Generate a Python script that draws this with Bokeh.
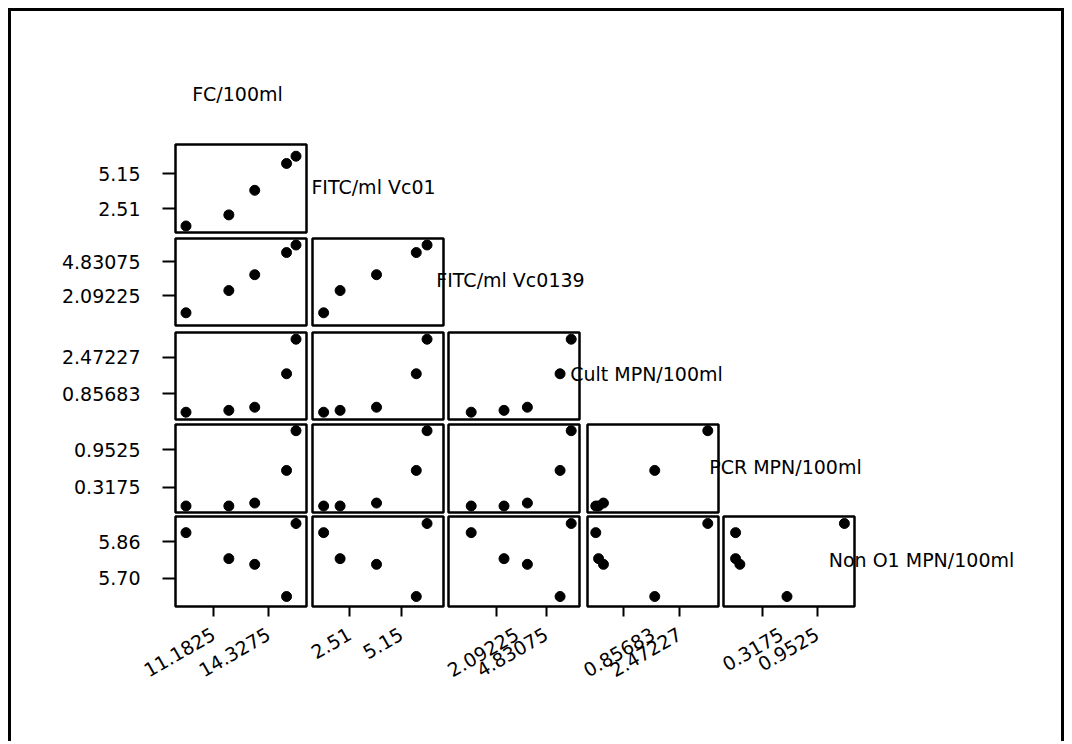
import math
from bokeh.plotting import figure
from bokeh.models import FixedTicker, Label, Range1d, Spacer
from bokeh.layouts import row, column
from bokeh.embed import file_html
from bokeh.resources import INLINE

# ---- data ----
names = ["FC/100ml", "FITC/ml Vc01", "FITC/ml Vc0139",
         "Cult MPN/100ml", "PCR MPN/100ml", "Non O1 MPN/100ml"]
fc = [9.61, 12.06, 13.54, 15.36, 15.90]
vc01 = [1.19, 2.03, 3.89, 5.92, 6.47]
vc0139 = [0.723, 2.52, 3.80, 5.59, 6.20]
cult = [0.049, 0.13, 0.27, 1.75, 3.28]
pcr = [0.00, 0.00, 0.05, 0.60, 1.27]
non_o1 = [5.90, 5.786, 5.761, 5.62, 5.94]
series = [fc, vc01, vc0139, cult, pcr, non_o1]

tick_values = [[11.1825, 14.3275], [2.51, 5.15], [2.09225, 4.83075],
               [0.85683, 2.47227], [0.3175, 0.9525], [5.70, 5.86]]
tick_labels = [["11.1825", "14.3275"], ["2.51", "5.15"], ["2.09225", "4.83075"],
               ["0.85683", "2.47227"], ["0.3175", "0.9525"], ["5.70", "5.86"]]

# ---- axis extents (layout) ----
x_ranges = [(9.010, 16.50), (0.621, 7.31), (-0.520, 6.654), (-0.190, 3.589), (-0.141, 1.388)]
y_ranges = [None, (0.698, 7.355), (-0.303, 6.725), (-0.274, 3.577), (-0.1096, 1.3746), (5.5762, 5.9707)]

FONT = "DejaVu Sans"
FS = "19px"
L = [175, 312, 448, 587, 723]
T = [144, 238, 332, 424, 516]
W = 131
H = [88, 87, 87, 88, 90]
ORIGIN = 11
RB = 200

rows = []
for r in range(5):
    yv = r + 1
    top = T[0] - ORIGIN if r == 0 else T[r] - (T[r - 1] + H[r - 1]) - 2
    bottom = 100 if r == 4 else 2
    figs = []
    for c in range(r + 1):
        left = L[0] - ORIGIN if c == 0 else L[c] - (L[c - 1] + W) - 2
        right = RB if c == r else 2
        p = figure(width=left + W + right, height=top + H[r] + bottom,
                   x_range=Range1d(*x_ranges[c]), y_range=Range1d(*y_ranges[yv]),
                   output_backend="svg", toolbar_location=None,
                   min_border_left=left, min_border_right=right,
                   min_border_top=top, min_border_bottom=bottom,
                   x_axis_location="below" if r == 4 else None,
                   y_axis_location="left" if c == 0 else None)
        p.grid.visible = False
        p.outline_line_color = "black"
        p.outline_line_width = 2.5
        p.background_fill_color = "white"
        p.border_fill_color = "white"
        p.scatter(x=series[c], y=series[yv], size=10, color="black")
        if c == 0:
            ax = p.yaxis[0]
            ax.ticker = FixedTicker(ticks=tick_values[yv])
            ax.major_label_overrides = dict(zip(tick_values[yv], tick_labels[yv]))
            ax.axis_line_color = None
            ax.major_tick_line_color = "black"
            ax.major_tick_line_width = 2
            ax.major_tick_out = 13
            ax.major_tick_in = 0
            ax.minor_tick_line_color = None
            ax.major_label_text_font = FONT
            ax.major_label_text_font_size = FS
            ax.major_label_text_color = "black"
            ax.major_label_standoff = 22
        if r == 4:
            ax = p.xaxis[0]
            ax.ticker = FixedTicker(ticks=tick_values[c])
            ax.major_label_overrides = dict(zip(tick_values[c], tick_labels[c]))
            ax.axis_line_color = None
            ax.major_tick_line_color = "black"
            ax.major_tick_line_width = 2
            ax.major_tick_out = 10
            ax.major_tick_in = 0
            ax.minor_tick_line_color = None
            ax.major_label_text_font = FONT
            ax.major_label_text_font_size = FS
            ax.major_label_text_color = "black"
            ax.major_label_orientation = math.radians(30)
            ax.major_label_standoff = 16
        if c == r:
            p.add_layout(Label(x=67, y=H[r] / 2 + 2, x_units="screen", y_units="screen",
                               text=names[yv], text_align="center", text_baseline="middle",
                               text_font=FONT, text_font_size=FS, text_color="black"), "right")
        if r == 0 and c == 0:
            p.add_layout(Label(x=62, y=T[0] - 93.5, x_units="screen", y_units="screen",
                               text=names[0], text_align="center", text_baseline="middle",
                               text_font=FONT, text_font_size=FS, text_color="black"), "above")
        figs.append(p)
    rows.append(row(*figs))

rows.append(Spacer(width=1050, height=35))
layout = column(*rows, margin=(8, 0, 0, 8),
                styles={"border-left": "3px solid black",
                        "border-top": "3px solid black",
                        "border-right": "3px solid black"})

open("out.html", "w").write(file_html(layout, INLINE))
